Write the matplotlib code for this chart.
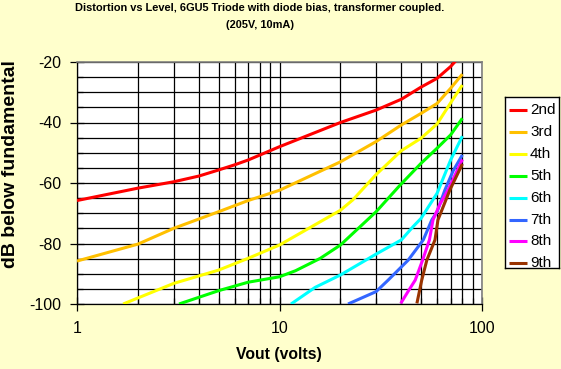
import matplotlib
matplotlib.use("Agg")
import matplotlib.pyplot as plt
from matplotlib.ticker import FixedLocator, NullFormatter, LogLocator
import numpy as np

# ---------------- data ----------------
series_names = ["2nd", "3rd", "4th", "5th", "6th", "7th", "8th", "9th"]
series_colors = ["#FF0000", "#FFC000", "#FFFF00", "#00FF00", "#00FFFF", "#3366FF", "#FF00FF", "#993300"]

h2_x = [1, 2, 3, 4, 5, 6, 7, 10, 20, 30, 40, 50, 60, 70, 78]
h2_y = [-65.8, -61.7, -59.6, -57.7, -55.7, -54.0, -52.4, -48.0, -40.0, -35.9, -32.3, -28.3, -25.4, -21.5, -18.0]

h3_x = [1, 2, 3, 5, 7, 10, 20, 30, 40, 50, 60, 70, 80]
h3_y = [-85.8, -80.2, -75.0, -69.5, -65.8, -62.4, -53.0, -46.3, -40.8, -37.0, -33.7, -28.7, -24.0]

h4_x = [1.69, 3, 5, 7, 10, 20, 23, 30, 40, 50, 60, 70, 80]
h4_y = [-100, -93.2, -88.8, -84.9, -80.5, -69.0, -65.6, -57.2, -49.3, -45.2, -40.5, -33.5, -27.6]

h5_x = [3.19, 5, 7, 10, 12, 15.9, 20, 30, 39.4, 50, 60, 70, 80]
h5_y = [-100, -95.6, -92.8, -91.0, -89.0, -84.9, -80.5, -69.5, -60.7, -53.5, -48.5, -44.1, -38.6]

h6_x = [11.4, 15, 20, 30, 40, 45.7, 50, 60, 70, 80]
h6_y = [-100, -94.5, -90.4, -83.5, -78.8, -74.4, -71.7, -63.4, -52.4, -44.5]

h7_x = [21.8, 30, 34.4, 43.2, 51.3, 56.5, 60, 65.6, 72, 80]
h7_y = [-100, -95.9, -92.1, -85.5, -78.8, -72.2, -69.5, -62.3, -56.0, -50.7]

h8_x = [39.7, 43, 46.8, 50.9, 55, 57.3, 62, 68, 80]
h8_y = [-99.8, -96.0, -92.1, -85.5, -78.8, -72.2, -67.0, -62.3, -52.2]

h9_x = [47.7, 50.4, 53.4, 58.6, 60.6, 69.4, 80]
h9_y = [-99.8, -92.1, -85.5, -78.8, -72.2, -62.3, -53.7]

xs = [h2_x, h3_x, h4_x, h5_x, h6_x, h7_x, h8_x, h9_x]
ys = [h2_y, h3_y, h4_y, h5_y, h6_y, h7_y, h8_y, h9_y]

y_ticks = [-100, -80, -60, -40, -20]
x_tick_labels = ["1", "10", "100"]

title1 = "Distortion vs Level, 6GU5 Triode with diode bias, transformer coupled."
title2 = "(205V, 10mA)"
xlabel = "Vout (volts)"
ylabel = "dB below fundamental"

# ---------------- figure ----------------
W, H = 561, 369
DPI = 100
BG = "#FFFFCC"
FONT = "Liberation Sans"

fig = plt.figure(figsize=(W / DPI, H / DPI), dpi=DPI, facecolor=BG)

def fx(px):
    return px / W

def fy(py):
    return 1 - py / H

L, R, T, B = 77, 482, 62, 304
ax = fig.add_axes([fx(L), fy(B), fx(R - L), (B - T) / H])
ax.set_facecolor("white")

for x, y, c in zip(xs, ys, series_colors):
    ax.plot(x, y, color=c, lw=2.2, solid_capstyle="butt", zorder=3)

ax.set_xscale("log")
ax.set_xlim(1, 100)
ax.set_ylim(-100, -20)

ax.xaxis.set_major_locator(FixedLocator([1, 10, 100]))
ax.xaxis.set_minor_locator(LogLocator(base=10, subs=np.arange(2, 10)))
ax.xaxis.set_minor_formatter(NullFormatter())
ax.set_xticklabels(x_tick_labels)
ax.yaxis.set_major_locator(FixedLocator(y_ticks))
ax.yaxis.set_minor_locator(FixedLocator(np.arange(-100, -19, 5)))
ax.set_yticklabels([str(v) for v in y_ticks])

ax.grid(True, which="both", color="black", lw=0.9, zorder=1)
ax.set_axisbelow(True)

ax.tick_params(axis="both", which="major", direction="inout", length=10, width=0.9,
               color="black", labelsize=11.5, labelfontfamily=FONT)
ax.tick_params(axis="both", which="minor", direction="in", length=4, width=0.9, color="black")
ax.tick_params(axis="x", which="major", pad=7)
ax.tick_params(axis="y", which="major", pad=6)

for s in ["left", "bottom"]:
    ax.spines[s].set_color("black")
    ax.spines[s].set_linewidth(0.9)
for s in ["top", "right"]:
    ax.spines[s].set_color("#808080")
    ax.spines[s].set_linewidth(1.2)

# titles / labels
fig.text(fx(260), fy(8), title1, ha="center", va="center", fontsize=7.9,
         fontweight="bold", family=FONT)
fig.text(fx(260), fy(25.5), title2, ha="center", va="center", fontsize=7.9,
         fontweight="bold", family=FONT)
fig.text(fx(279), fy(355), xlabel, ha="center", va="center", fontsize=11.3,
         fontweight="bold", family=FONT)
fig.text(fx(11), fy(164), ylabel, ha="center", va="center", fontsize=14,
         fontweight="bold", family=FONT, rotation=90)

# legend (clipped box, like the original)
LX0, LX1, LY0, LY1 = 505, 559, 97, 268
lax = fig.add_axes([fx(LX0), fy(LY1), fx(LX1 - LX0), (LY1 - LY0) / H])
lax.set_facecolor("white")
lax.set_xlim(0, LX1 - LX0)
lax.set_ylim(LY1 - LY0, 0)
lax.set_xticks([])
lax.set_yticks([])
for s in lax.spines.values():
    s.set_color("black")
    s.set_linewidth(1.0)
for i, (name, c) in enumerate(zip(series_names, series_colors)):
    yy = 13 + 21.9 * i
    lax.plot([4, 22], [yy, yy], color=c, lw=2.2, solid_capstyle="butt", clip_on=True)
    lax.text(25, yy, name, ha="left", va="center", fontsize=11, family=FONT, clip_on=True)

fig.savefig("out.png", dpi=DPI, facecolor=BG)
